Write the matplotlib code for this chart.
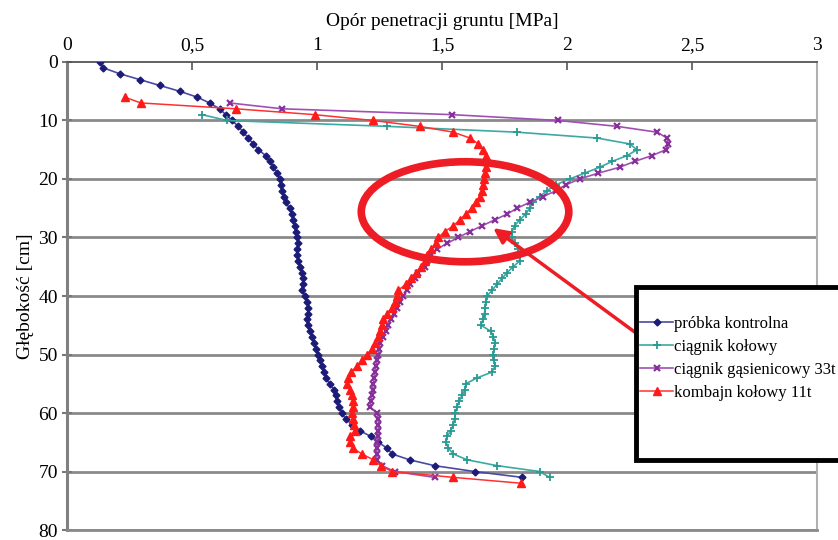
import matplotlib.pyplot as plt
from matplotlib.patches import Ellipse, Rectangle

plt.rcParams['font.family'] = ['Liberation Serif', 'DejaVu Serif']

# Głębokość [cm] i opór [MPa]
gl_kontrolna = list(range(0, 72))
op_kontrolna = [0.13, 0.145, 0.21, 0.29, 0.37, 0.45, 0.52, 0.57, 0.61, 0.635,
                0.66, 0.685, 0.705, 0.725, 0.745, 0.765, 0.795, 0.81, 0.825, 0.84,
                0.85, 0.855, 0.86, 0.868, 0.875, 0.89, 0.898, 0.905, 0.91, 0.915,
                0.92, 0.925, 0.92, 0.92, 0.925, 0.932, 0.94, 0.945, 0.942, 0.94,
                0.95, 0.96, 0.962, 0.965, 0.96, 0.962, 0.97, 0.978, 0.988, 0.995,
                1.003, 1.01, 1.018, 1.027, 1.036, 1.05, 1.068, 1.075, 1.078, 1.088,
                1.098, 1.115, 1.14, 1.17, 1.215, 1.245, 1.28, 1.30, 1.37, 1.47,
                1.63, 1.82]

gl_kolowy = list(range(9, 72))
op_kolowy = [0.54, 0.64, 1.28, 1.80, 2.12, 2.25, 2.28, 2.24, 2.18, 2.13,
             2.07, 2.01, 1.955, 1.92, 1.89, 1.865, 1.85, 1.835, 1.81, 1.79,
             1.78, 1.78, 1.79, 1.805, 1.81, 1.81, 1.785, 1.76, 1.74, 1.72,
             1.70, 1.68, 1.675, 1.672, 1.67, 1.665, 1.655, 1.695, 1.705, 1.712,
             1.708, 1.705, 1.708, 1.712, 1.70, 1.64, 1.595, 1.592, 1.58, 1.568,
             1.56, 1.553, 1.55, 1.545, 1.535, 1.52, 1.516, 1.525, 1.545, 1.60,
             1.72, 1.89, 1.93]

gl_gasienicowy = list(range(7, 72))
op_gasienicowy = [0.65, 0.86, 1.54, 1.965, 2.20, 2.36, 2.40, 2.405, 2.395, 2.34,
                  2.27, 2.21, 2.125, 2.05, 1.995, 1.955, 1.905, 1.85, 1.80, 1.76,
                  1.71, 1.66, 1.61, 1.565, 1.52, 1.48, 1.455, 1.44, 1.43, 1.405,
                  1.39, 1.372, 1.36, 1.345, 1.333, 1.32, 1.308, 1.295, 1.285, 1.275,
                  1.262, 1.252, 1.248, 1.245, 1.24, 1.235, 1.232, 1.228, 1.225, 1.222,
                  1.219, 1.215, 1.212, 1.24, 1.245, 1.245, 1.245, 1.242, 1.24, 1.239,
                  1.239, 1.24, 1.26, 1.31, 1.47]

gl_kombajn = list(range(6, 73))
op_kombajn = [0.23, 0.295, 0.675, 0.99, 1.225, 1.41, 1.545, 1.612, 1.645, 1.665,
              1.675, 1.679, 1.676, 1.672, 1.668, 1.665, 1.66, 1.652, 1.635, 1.618,
              1.595, 1.57, 1.545, 1.51, 1.485, 1.475, 1.455, 1.44, 1.43, 1.415,
              1.395, 1.375, 1.355, 1.325, 1.32, 1.31, 1.30, 1.28, 1.265, 1.26,
              1.252, 1.242, 1.232, 1.22, 1.20, 1.18, 1.16, 1.135, 1.122, 1.119,
              1.13, 1.139, 1.143, 1.145, 1.14, 1.142, 1.148, 1.15, 1.132, 1.132,
              1.142, 1.18, 1.225, 1.255, 1.30, 1.545, 1.815]

x_ticks = [0, 0.5, 1, 1.5, 2, 2.5, 3]
x_labels = ['0', '0,5', '1', '1,5', '2', '2,5', '3']
y_ticks = [0, 10, 20, 30, 40, 50, 60, 70, 80]

fig = plt.figure(figsize=(8.38, 5.4), dpi=100)
ax = fig.add_axes([0.080, 0.0185, 0.895, 0.8667])

# linie siatki
for y in y_ticks[1:]:
    ax.axhline(y, color='#8a8a8a', lw=2.0, zorder=1)

ax.plot(op_kontrolna, gl_kontrolna, color='#4a4aa0', lw=1.2, marker='D', ms=3.5,
        mfc='#1c1c78', mec='#1c1c78', label='próbka kontrolna', zorder=3)
ax.plot(op_kolowy, gl_kolowy, color='#3aaaa2', lw=1.2, marker='+', ms=6, mew=1.3,
        mec='#2a9a92', label='ciągnik kołowy', zorder=3)
ax.plot(op_gasienicowy, gl_gasienicowy, color='#a050b4', lw=1.2, marker='x', ms=5,
        mew=1.6, mec='#86309a', label='ciągnik gąsienicowy 33t', zorder=3)
ax.plot(op_kombajn, gl_kombajn, color='#ff3030', lw=1.1, marker='^', ms=5.5,
        mfc='#ff1a1a', mec='#ff1a1a', label='kombajn kołowy 11t', zorder=3)

# czerwona elipsa i strzałka
ax.add_patch(Ellipse((1.592, 25.6), 0.83, 17.1, fill=False, ec='#ee1c24',
                     lw=5.5, zorder=4))
ax.annotate('', xy=(1.705, 28.4), xycoords='data',
            xytext=(636 / 838, 1 - 333 / 540), textcoords='figure fraction',
            arrowprops=dict(arrowstyle='-|>,head_length=0.9,head_width=0.45',
                            color='#ee1c24', lw=2.5, shrinkA=0, shrinkB=0),
            zorder=5)

ax.set_xlim(0, 3)
ax.set_ylim(80, 0)
ax.xaxis.tick_top()
ax.xaxis.set_label_position('top')
ax.set_xticks(x_ticks)
ax.set_xticklabels(x_labels)
ax.set_yticks(y_ticks)
ax.tick_params(axis='x', direction='in', length=6, width=1.2, color='#555555',
               labelsize=14, pad=6)
ax.tick_params(axis='y', direction='inout', length=7, width=1.5, color='#777777',
               labelsize=14, pad=3)
ax.set_xlabel('Opór penetracji gruntu [MPa]', fontsize=14, labelpad=8)
ax.set_ylabel('Głębokość [cm]', fontsize=14, labelpad=3)

ax.spines['top'].set_color('#555555')
ax.spines['top'].set_linewidth(1.3)
ax.spines['left'].set_color('#808080')
ax.spines['left'].set_linewidth(2.2)
ax.spines['bottom'].set_color('#8a8a8a')
ax.spines['bottom'].set_linewidth(2.0)
ax.spines['right'].set_color('#b0b0b0')
ax.spines['right'].set_linewidth(1.5)

# ramka legendy wychodząca poza rysunek
fig.patches.append(Rectangle((636 / 838, 1 - 460 / 540), 0.3, 173 / 540,
                             transform=fig.transFigure, fc='white', ec='black',
                             lw=3.5, zorder=6))
leg = fig.legend(loc='upper left', bbox_to_anchor=(640 / 838, 1 - 316 / 540),
                 frameon=False, fontsize=12, handlelength=2.0, handletextpad=0.05,
                 labelspacing=0.42, borderaxespad=0, borderpad=0)
leg.set_zorder(7)

fig.savefig('out.png', dpi=100)
